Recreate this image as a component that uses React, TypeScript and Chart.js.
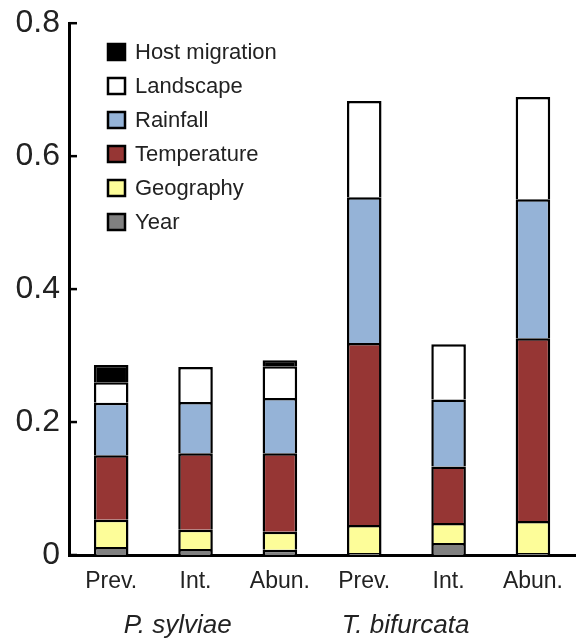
import React, { useEffect, useRef } from "react";
import { Chart, registerables } from "chart.js";

Chart.register(...registerables);

const categories = ["Prev.", "Int.", "Abun.", "Prev.", "Int.", "Abun."];
const groupLabels = ["P. sylviae", "T. bifurcata"];
const groupPositions = [1.29, 3.99];
const yTicks = [0, 0.2, 0.4, 0.6, 0.8];

const year = [0.012, 0.009, 0.008, 0.003, 0.018, 0.003];
const geography = [0.041, 0.029, 0.027, 0.042, 0.030, 0.048];
const temperature = [0.097, 0.115, 0.118, 0.274, 0.085, 0.275];
const rainfall = [0.079, 0.077, 0.083, 0.219, 0.101, 0.209];
const landscape = [0.031, 0.053, 0.048, 0.145, 0.083, 0.154];
const hostMigration = [0.026, 0, 0.009, 0, 0, 0];

const seriesNames = ["Year", "Geography", "Temperature", "Rainfall", "Landscape", "Host migration"];
const seriesValues = [year, geography, temperature, rainfall, landscape, hostMigration];
const seriesColors = ["#808080", "#fdfd99", "#963634", "#95b3d7", "#ffffff", "#000000"];

const FONT = "'Liberation Sans', Arial, sans-serif";
const SHIFT = 5;

const inwardTicks = {
  id: "inwardTicks",
  afterDraw(chart: any) {
    const { ctx, chartArea } = chart;
    const y = chart.scales.y;
    ctx.save();
    ctx.strokeStyle = "#000";
    ctx.lineWidth = 2.5;
    yTicks.forEach((v) => {
      const py = y.getPixelForValue(v);
      ctx.beginPath();
      ctx.moveTo(chartArea.left, py);
      ctx.lineTo(chartArea.left + 8, py);
      ctx.stroke();
    });
    ctx.restore();
  },
};

const groupAxis = {
  id: "groupAxis",
  afterDraw(chart: any) {
    const { ctx } = chart;
    const x = chart.scales.x;
    const p0 = x.getPixelForValue(0);
    const step = x.getPixelForValue(1) - p0;
    ctx.save();
    ctx.font = `italic 26px ${FONT}`;
    ctx.fillStyle = "#222";
    ctx.textAlign = "center";
    ctx.textBaseline = "middle";
    groupLabels.forEach((label, i) => {
      const cx = p0 + (groupPositions[i] - 0.5) * step;
      ctx.fillText(label, cx, 626 + SHIFT);
    });
    ctx.restore();
  },
};

const boxLegend = {
  id: "boxLegend",
  afterDraw(chart: any) {
    const { ctx } = chart;
    const ds = chart.data.datasets.slice().reverse();
    ctx.save();
    ctx.font = `22px ${FONT}`;
    ctx.textBaseline = "middle";
    ds.forEach((d: any, i: number) => {
      const cy = 52 + SHIFT + i * 34;
      ctx.fillStyle = d.backgroundColor;
      ctx.fillRect(108, cy - 8, 17, 16);
      ctx.strokeStyle = "#000";
      ctx.lineWidth = 2.5;
      ctx.strokeRect(108, cy - 8, 17, 16);
      ctx.fillStyle = "#222";
      ctx.fillText(d.label, 135, cy + 1);
    });
    ctx.restore();
  },
};

export default function App() {
  const ref = useRef<HTMLCanvasElement>(null);

  useEffect(() => {
    if (!ref.current) return;
    const chart = new Chart(ref.current, {
      type: "bar",
      data: {
        labels: categories,
        datasets: seriesNames.map((name, i) => ({
          label: name,
          data: seriesValues[i],
          backgroundColor: seriesColors[i],
          borderColor: "#000",
          borderWidth: 2.5,
          borderSkipped: "start",
          barPercentage: 0.41,
          categoryPercentage: 1,
        })),
      },
      options: {
        responsive: false,
        animation: false,
        layout: { padding: { top: 0, left: 0, right: 0, bottom: 0 } },
        plugins: { legend: { display: false }, tooltip: { enabled: false } },
        scales: {
          x: {
            stacked: true,
            grid: { display: false, drawTicks: false },
            border: { display: true, color: "#000", width: 3 },
            ticks: { color: "#222", font: { family: FONT, size: 23 }, padding: 13, maxRotation: 0, autoSkip: false },
            afterFit: (s: any) => { s.height = 87; },
          },
          y: {
            stacked: true,
            min: 0,
            max: 0.8,
            afterBuildTicks: (s: any) => { s.ticks = yTicks.map((v) => ({ value: v })); },
            grid: { display: false, drawTicks: false },
            border: { display: true, color: "#000", width: 3 },
            ticks: {
              color: "#222",
              font: { family: FONT, size: 32 },
              padding: 9,
              callback: (v: any) => (v === 0 ? "0" : Number(v).toFixed(1)),
            },
            afterFit: (s: any) => { s.width = 69; },
          },
        },
      },
      plugins: [inwardTicks, groupAxis, boxLegend],
    });
    return () => chart.destroy();
  }, []);

  return (
    <div style={{ position: "fixed", left: 0, top: -SHIFT, width: 576, height: 642 + SHIFT, background: "#fff" }}>
      <canvas ref={ref} width={576} height={642 + SHIFT} style={{ display: "block" }} />
    </div>
  );
}
